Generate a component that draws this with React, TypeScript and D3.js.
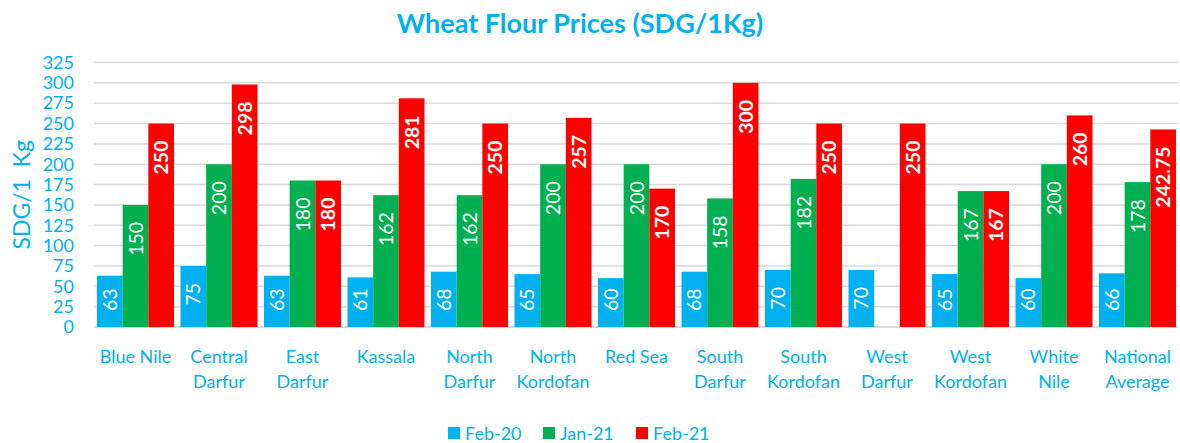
import React from "react";
import * as d3 from "d3";

const categories: string[][] = [
  ["Blue Nile"], ["Central", "Darfur"], ["East", "Darfur"], ["Kassala"],
  ["North", "Darfur"], ["North", "Kordofan"], ["Red Sea"], ["South", "Darfur"],
  ["South", "Kordofan"], ["West", "Darfur"], ["West", "Kordofan"], ["White", "Nile"],
  ["National", "Average"],
];
const seriesNames = ["Feb-20", "Jan-21", "Feb-21"];
const feb20: (number | null)[] = [63, 75, 63, 61, 68, 65, 60, 68, 70, 70, 65, 60, 66];
const jan21: (number | null)[] = [150, 200, 180, 162, 162, 200, 200, 158, 182, null, 167, 200, 178];
const feb21: (number | null)[] = [250, 298, 180, 281, 250, 257, 170, 300, 250, 250, 167, 260, 242.75];
const yTicks = [0, 25, 50, 75, 100, 125, 150, 175, 200, 225, 250, 275, 300, 325];
const colors = ["#00B0F0", "#00B050", "#FF0000"];

const W = 1180, H = 443;
const TXT = "#00B0F0";
const FONT = "Lato, 'Open Sans', sans-serif";

export default function App() {
  const series = [feb20, jan21, feb21];
  const x0 = d3.scaleBand<number>().domain(categories.map((_, i) => i)).range([93.75, 1179.25]).paddingInner(0.078).paddingOuter(0.039);
  const x1 = d3.scaleBand<number>().domain([0, 1, 2]).range([0, x0.bandwidth()]).padding(0);
  const y = d3.scaleLinear().domain([0, 325]).range([327, 62.5]);

  return (
    <svg width={W} height={H} style={{ position: "absolute", left: 0, top: 0, background: "#fff" }} fontFamily={FONT}>
      <text x={580} y={33} textAnchor="middle" fill={TXT} fontSize={27} fontWeight="bold">Wheat Flour Prices (SDG/1Kg)</text>
      {yTicks.map((t) => (
        <g key={t}>
          <line x1={94} x2={1178} y1={y(t)} y2={y(t)} stroke="#D9D9D9" strokeWidth={t === 0 ? 2 : 1.5} />
          <text x={74} y={y(t)} dy="0.35em" textAnchor="end" fill={TXT} fontSize={18}>{t}</text>
        </g>
      ))}
      <text transform={`translate(30,${(y(0) + y(325)) / 2}) rotate(-90)`} textAnchor="middle" fill={TXT} fontSize={23} xmlSpace="preserve">SDG/1  Kg</text>
      {series.map((vals, s) => (
        <g key={s}>
          {vals.map((v, i) => {
            if (v == null) return null;
            const bx = (x0(i) as number) + (x1(s) as number);
            const bw = x1.bandwidth();
            const top = y(v);
            const label = String(v);
            const len = label.replace(".", "").length * 11.3 + (label.includes(".") ? 5 : 0);
            const ty = Math.min(top + 17, y(0) - 16 - len);
            return (
              <g key={i}>
                <rect x={bx} y={top} width={bw} height={y(0) - top} fill={colors[s]} />
                <text transform={`translate(${bx + bw / 2},${ty}) rotate(-90)`} textAnchor="end" dy="0.36em" fill="#fff" fontSize={19.5} fontWeight={s === 2 ? "bold" : "normal"}>{label}</text>
              </g>
            );
          })}
        </g>
      ))}
      {categories.map((lines, i) => (
        <text key={i} x={(x0(i) as number) + x0.bandwidth() / 2} textAnchor="middle" fill={TXT} fontSize={18}>
          {lines.map((l, j) => (
            <tspan key={j} x={(x0(i) as number) + x0.bandwidth() / 2} y={363 + j * 25}>{l}</tspan>
          ))}
        </text>
      ))}
      {seriesNames.map((n, s) => {
        const lx = [448, 543, 636][s];
        return (
          <g key={n}>
            <rect x={lx} y={427} width={12} height={12} fill={colors[s]} />
            <text x={lx + 17} y={440} fill={TXT} fontSize={18}>{n}</text>
          </g>
        );
      })}
    </svg>
  );
}
